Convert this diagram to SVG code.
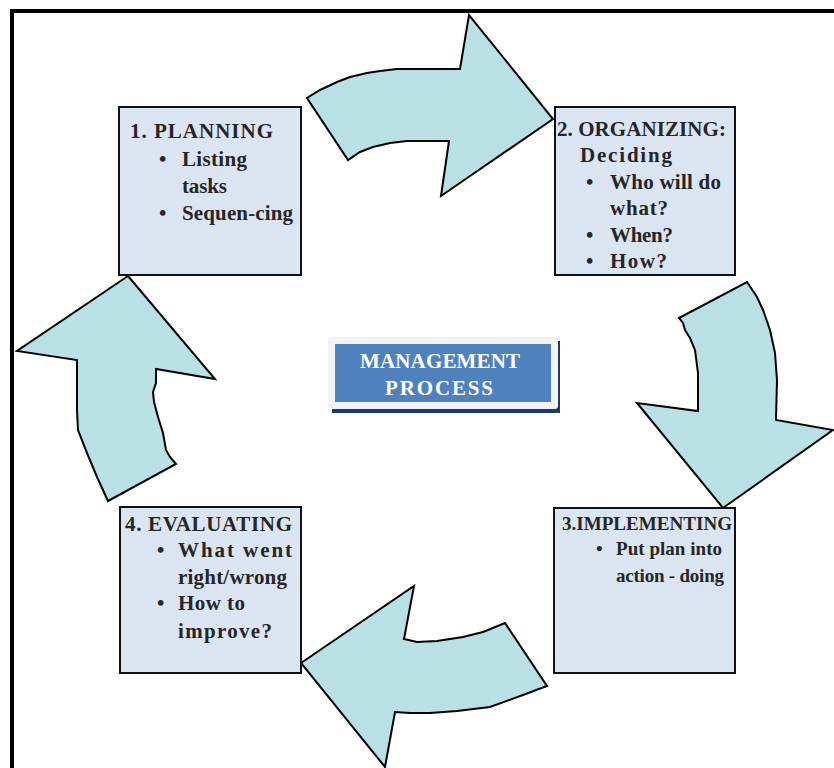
<svg xmlns="http://www.w3.org/2000/svg" width="834" height="768" viewBox="0 0 834 768">
<style>
.frame{fill:none;stroke:#000;stroke-width:4}
.box{fill:#dbe5f1;stroke:#111;stroke-width:2}
.arr{fill:#b9e0e3;stroke:#000;stroke-width:2;stroke-linejoin:miter}
.t{font-family:"Liberation Serif","Times New Roman",serif;font-weight:bold;font-size:21px;fill:#262626}
.c{font-family:"Liberation Serif","Times New Roman",serif;font-weight:bold;font-size:21px;fill:#fff}
</style>
<rect width="834" height="768" fill="#fff"/>
<rect class="frame" x="12" y="11" width="840" height="780"/>
<g id="connectors">
<path class="arr" d="M307,98 L320,90 L337,82 L350,77 L367,73 L380,71 L397,69 L460,69 L469,15 L553,119 L441,196 L449,141 L407,141 L390,143 L373,147 L360,152 L348,160 Z"/>
<path class="arr" d="M679,318 L747,282 L757,297 L763,310 L770,330 L775,353 L777,380 L776,420 L833,430 L723,508 L637,403 L698,411 L698,373 L695,350 L690,338 L685,330 L683,323 Z"/>
<path class="arr" d="M301,663 L414,586 L404,639 L417,642 L437,641 L463,637 L483,632 L505,623 L547,686 L523,695 L490,707 L457,711 L430,713 L410,713 L395,712 L385,767 Z"/>
<path class="arr" d="M128,276 L215,379 L156,369 L156,383 L153,392 L154,402 L158,417 L163,433 L166,450 L170,457 L176,464 L108,501 L97,477 L87,453 L78,430 L77,410 L77,360 L17,351 Z"/>
</g>
<g id="planning">
<rect class="box" x="119" y="107" width="182" height="168"/>
<text class="t" x="130" y="138" textLength="143" lengthAdjust="spacing">1.  PLANNING</text>
<text class="t" x="159" y="166">•</text>
<text class="t" x="182" y="166" textLength="65" lengthAdjust="spacing">Listing</text>
<text class="t" x="182" y="193" textLength="45" lengthAdjust="spacing">tasks</text>
<text class="t" x="159" y="220">•</text>
<text class="t" x="182" y="220" textLength="111" lengthAdjust="spacing">Sequen-cing</text>
</g>
<g id="organizing">
<rect class="box" x="555" y="107" width="180" height="168"/>
<text class="t" x="557" y="136" textLength="169" lengthAdjust="spacing">2. ORGANIZING:</text>
<text class="t" x="580" y="162" textLength="92" lengthAdjust="spacing">Deciding</text>
<text class="t" x="586" y="189">•</text>
<text class="t" x="610" y="189" textLength="111" lengthAdjust="spacing">Who will do</text>
<text class="t" x="610" y="215" textLength="58" lengthAdjust="spacing">what?</text>
<text class="t" x="586" y="242">•</text>
<text class="t" x="610" y="242" textLength="63" lengthAdjust="spacing">When?</text>
<text class="t" x="586" y="268">•</text>
<text class="t" x="610" y="268" textLength="57" lengthAdjust="spacing">How?</text>
</g>
<g id="implementing">
<rect class="box" x="554" y="508" width="181" height="165"/>
<text class="t" x="562" y="530" style="font-size:18px" textLength="170" lengthAdjust="spacingAndGlyphs">3.IMPLEMENTING</text>
<text class="t" x="596" y="555" style="font-size:19px">•</text>
<text class="t" x="616" y="555" style="font-size:19px" textLength="106" lengthAdjust="spacing">Put plan into</text>
<text class="t" x="616" y="582" style="font-size:19px" textLength="108" lengthAdjust="spacing">action - doing</text>
</g>
<g id="evaluating">
<rect class="box" x="120" y="507" width="181" height="166"/>
<text class="t" x="125" y="531" textLength="167" lengthAdjust="spacing">4.  EVALUATING</text>
<text class="t" x="157" y="557">•</text>
<text class="t" x="178" y="557" textLength="114" lengthAdjust="spacing">What  went</text>
<text class="t" x="178" y="584" textLength="109" lengthAdjust="spacing">right/wrong</text>
<text class="t" x="157" y="610">•</text>
<text class="t" x="178" y="610" textLength="67" lengthAdjust="spacing">How to</text>
<text class="t" x="178" y="638" textLength="94" lengthAdjust="spacing">improve?</text>
</g>
<g id="management">
<rect x="332" y="341" width="228" height="72" fill="#1f3a5f"/>
<rect x="328" y="337" width="230" height="72" rx="3" fill="#f2f2f2"/>
<rect x="335" y="344" width="216" height="58" fill="#4f81bd"/>
<text class="c" x="360" y="368" textLength="160" lengthAdjust="spacing">MANAGEMENT</text>
<text class="c" x="385" y="395" textLength="108" lengthAdjust="spacing">PROCESS</text>
</g>
</svg>
